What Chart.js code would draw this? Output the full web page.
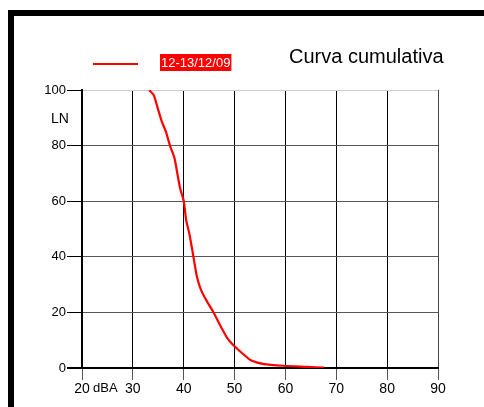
<!DOCTYPE html>
<html>
<head>
<meta charset="utf-8">
<script src="https://cdn.jsdelivr.net/npm/chart.js@4/dist/chart.umd.min.js"></script>
<style>
html,body{margin:0;padding:0;background:#fff;}
#wrap{width:484px;height:407px;position:relative;}
</style>
</head>
<body>
<div id="wrap"><canvas id="c" width="484" height="407"></canvas></div>
<script>
// Data
const seriesLabel = "12-13/12/09";
const chartTitle = "Curva cumulativa";
const dbaValues = [33.2, 34.1, 34.9, 35.7, 36.5, 37.3, 38.2, 38.8, 39.3, 40.0, 40.5, 41.1, 41.8, 42.6, 43.4, 44.4, 45.9, 47.3, 48.6, 50.0, 51.5, 53.2, 55.8, 59.7, 64.3, 67.6];
const lnValues  = [100, 98.2, 93.4, 88.6, 85.0, 80.0, 75.4, 69.4, 64.6, 60.1, 53.0, 48.4, 41.2, 32.8, 28.1, 24.5, 19.9, 14.9, 10.7, 7.8, 5.3, 2.8, 1.4, 0.8, 0.4, 0.1];
const xTicks = [20, 30, 40, 50, 60, 70, 80, 90];
const yTicks = [0, 20, 40, 60, 80, 100];
const xUnit = "dBA";
const yUnit = "LN";

const FONT = "'Liberation Sans', Arial, sans-serif";

const decor = {
  id: 'decor',
  beforeDraw(chart) {
    const ctx = chart.ctx;
    ctx.save();
    ctx.fillStyle = '#fff';
    ctx.fillRect(0, 0, chart.width, chart.height);
    ctx.fillStyle = '#000';
    ctx.fillRect(8, 10, chart.width - 8, 6);
    ctx.fillRect(8, 10, 6, chart.height - 10);
    ctx.restore();
  },
  afterDraw(chart) {
    const ctx = chart.ctx;
    ctx.save();
    // title
    ctx.fillStyle = '#000';
    ctx.font = '20px ' + FONT;
    ctx.textBaseline = 'alphabetic';
    ctx.textAlign = 'left';
    ctx.fillText(chartTitle, 289, 63);
    // legend
    ctx.strokeStyle = '#ff0000';
    ctx.lineWidth = 2;
    ctx.beginPath(); ctx.moveTo(93, 64); ctx.lineTo(138, 64); ctx.stroke();
    ctx.font = '13px ' + FONT;
    const w = ctx.measureText(seriesLabel).width;
    ctx.fillStyle = '#ff0000';
    ctx.fillRect(160, 54, w + 2, 17);
    ctx.fillStyle = '#fff';
    ctx.fillText(seriesLabel, 161, 67);
    // axis units
    ctx.fillStyle = '#000';
    ctx.font = '14px ' + FONT;
    ctx.fillText(yUnit, 51, 123);
    ctx.font = '13px ' + FONT;
    ctx.fillText(xUnit, 93, 392);
    ctx.restore();
  }
};

new Chart(document.getElementById('c'), {
  type: 'line',
  data: {
    datasets: [{
      label: seriesLabel,
      data: dbaValues.map((v, i) => ({x: v, y: lnValues[i]})),
      borderColor: '#ff0000',
      borderWidth: 2.2,
      pointRadius: 0,
      tension: 0.2,
      fill: false
    }]
  },
  options: {
    responsive: false,
    animation: false,
    layout: { padding: { left: 20, right: 46, top: 90, bottom: 9 } },
    plugins: { legend: { display: false }, title: { display: false }, tooltip: { enabled: false } },
    scales: {
      x: {
        type: 'linear', min: 20, max: 90,
        afterBuildTicks(s) { s.ticks = xTicks.map(v => ({value: v})); },
        afterFit(s) { s.height = 30; },
        border: { display: true, color: '#000', width: 2 },
        grid: {
          color: (c) => c.tick && c.tick.value === 90 ? '#444' : '#000',
          lineWidth: 1, tickLength: 12, tickColor: '#555', drawTicks: true
        },
        ticks: { color: '#000', font: { family: FONT, size: 14 }, padding: 1, maxRotation: 0, autoSkip: false }
      },
      y: {
        type: 'linear', min: 0, max: 100,
        afterBuildTicks(s) { s.ticks = yTicks.map(v => ({value: v})); },
        afterFit(s) { s.width = 62; },
        border: { display: true, color: '#000', width: 2 },
        grid: {
          color: (c) => c.tick && c.tick.value === 100 ? '#cccccc' : (c.tick && c.tick.value === 0 ? '#000' : '#555'),
          lineWidth: (c) => c.tick && c.tick.value === 0 ? 2 : 1,
          tickLength: 15, tickColor: '#000'
        },
        ticks: { color: '#000', font: { family: FONT, size: 13 }, padding: 1, autoSkip: false }
      }
    }
  },
  plugins: [decor]
});
</script>
</body>
</html>
